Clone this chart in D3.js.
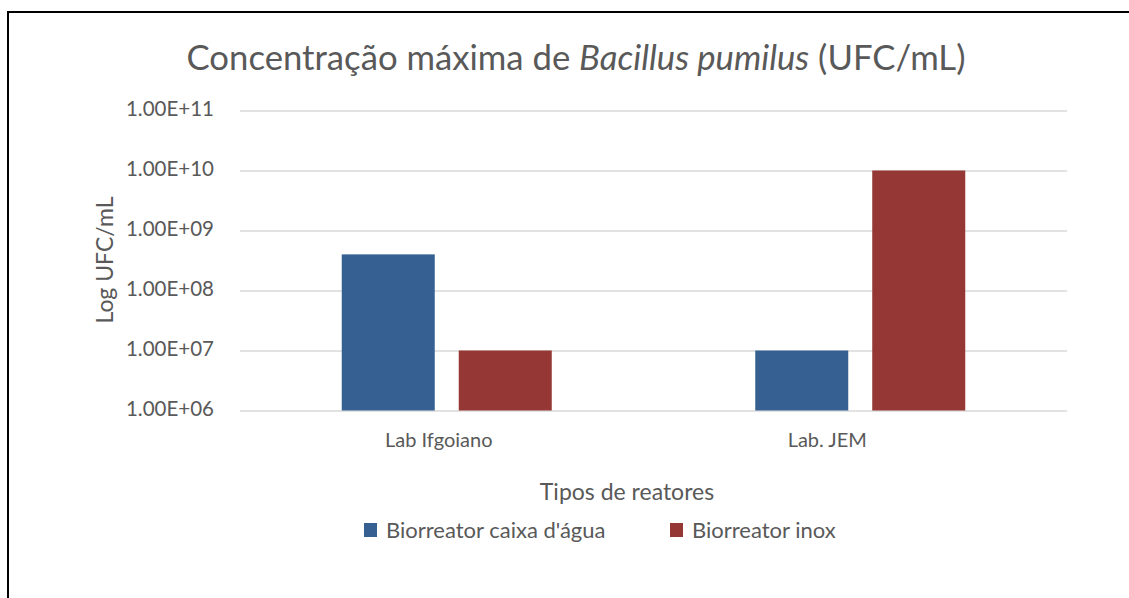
<!DOCTYPE html>
<html>
<head>
<meta charset="utf-8">
<script src="https://cdn.jsdelivr.net/npm/d3@7"></script>
<style>
  body { margin: 0; background: #fff; }
  text { font-family: Lato, "Noto Sans", sans-serif; fill: #595959; }
</style>
</head>
<body>
<svg class="scene"></svg>
<script>

//
// data
//

var categories = ["Lab Ifgoiano", "Lab. JEM"];
var seriesNames = ["Biorreator caixa d'água", "Biorreator inox"];
var caixaValues = [4e8, 1e7];
var inoxValues = [1e7, 1e10];
var tickValues = [1e6, 1e7, 1e8, 1e9, 1e10, 1e11];

var colors = ["#376092", "#953735"];

//
// scene
//

var width = 1129,
    height = 598;

var scene = d3.select(".scene")
    .attr("width", width)
    .attr("height", height);

// frame (only top and left edges are visible in the crop)
scene.append("rect")
    .attr("x", 8)
    .attr("y", 12)
    .attr("width", 1400)
    .attr("height", 900)
    .attr("fill", "none")
    .attr("stroke", "#000")
    .attr("stroke-width", 2);

var plot = { left: 240, right: 1067, top: 110.5, bottom: 410.5 };

var x0 = d3.scaleBand()
    .domain(categories)
    .range([plot.left, plot.right]);

var x1 = d3.scaleBand()
    .domain(seriesNames)
    .range([101.75, 311.75])
    .paddingInner(0.205);

var y = d3.scaleLog()
    .domain([1e6, 1e11])
    .range([plot.bottom, plot.top]);

//
// grid
//

var yAxis = d3.axisLeft(y)
    .tickValues(tickValues)
    .tickSize(-(plot.right - plot.left))
    .tickPadding(26)
    .tickFormat(function (d) {
        return d.toExponential(2).toUpperCase().replace(/E\+(\d)$/, "E+0$1");
    });

var gy = scene.append("g")
    .attr("transform", "translate(" + plot.left + ",0)")
    .call(yAxis);
gy.select(".domain").remove();
gy.selectAll(".tick line")
    .attr("stroke", "#d9d9d9")
    .attr("stroke-width", 1.5);
gy.selectAll(".tick text")
    .attr("font-size", 20.5)
    .attr("font-family", null)
    .attr("dy", "0.26em")
    .attr("fill", "#595959");

//
// bars
//

var rows = categories.map(function (c, i) {
    return { cat: c, values: [caixaValues[i], inoxValues[i]] };
});

var groups = scene.selectAll("g.cat")
    .data(rows)
    .enter().append("g")
    .attr("class", "cat")
    .attr("transform", function (d) {
        return "translate(" + x0(d.cat) + ",0)";
    });

groups.selectAll("rect")
    .data(function (d) {
        return d.values.map(function (v, i) { return { s: seriesNames[i], v: v, i: i }; });
    })
    .enter().append("rect")
    .attr("x", function (d) { return x1(d.s); })
    .attr("y", function (d) { return y(d.v); })
    .attr("width", x1.bandwidth())
    .attr("height", function (d) { return y(1e6) - y(d.v); })
    .attr("fill", function (d) { return colors[d.i]; });

//
// category labels
//

var labelShift = [-8, -33];

scene.selectAll("text.cat-label")
    .data(categories)
    .enter().append("text")
    .attr("class", "cat-label")
    .attr("x", function (d, i) { return x0(d) + x0.bandwidth() / 2 + labelShift[i]; })
    .attr("y", 447)
    .attr("text-anchor", "middle")
    .attr("font-size", 20)
    .text(function (d) { return d; });

//
// titles
//

var title = scene.append("text")
    .attr("x", 576)
    .attr("y", 70)
    .attr("text-anchor", "middle")
    .attr("font-size", 34.7);
title.append("tspan").text("Concentração máxima de ");
title.append("tspan").attr("font-style", "italic").text("Bacillus pumilus");
title.append("tspan").text(" (UFC/mL)");

scene.append("text")
    .attr("x", 627)
    .attr("y", 500)
    .attr("text-anchor", "middle")
    .attr("font-size", 23)
    .text("Tipos de reatores");

scene.append("text")
    .attr("transform", "translate(113,260) rotate(-90)")
    .attr("text-anchor", "middle")
    .attr("font-size", 23)
    .text("Log UFC/mL");

//
// legend
//

var legendX = [364, 670];

var legend = scene.selectAll("g.legend")
    .data(seriesNames)
    .enter().append("g")
    .attr("class", "legend")
    .attr("transform", function (d, i) {
        return "translate(" + legendX[i] + ",523)";
    });

legend.append("rect")
    .attr("width", 13)
    .attr("height", 14)
    .attr("fill", function (d, i) { return colors[i]; });

legend.append("text")
    .attr("x", 22)
    .attr("y", 15)
    .attr("font-size", 22)
    .text(function (d) { return d; });

</script>
</body>
</html>
